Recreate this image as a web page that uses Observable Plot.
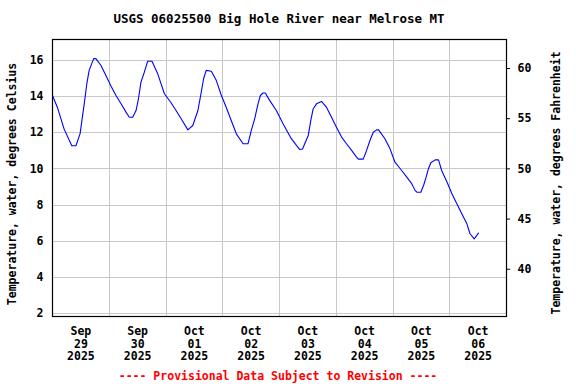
<!DOCTYPE html>
<html>
<head>
<meta charset="utf-8">
<script src="https://cdn.jsdelivr.net/npm/d3@7"></script>
<script src="https://cdn.jsdelivr.net/npm/@observablehq/plot@0.6"></script>
<style>
  html, body { margin: 0; padding: 0; background: #fff; }
  body { width: 576px; height: 384px; overflow: hidden; font-family: "DejaVu Sans Mono", monospace; font-weight: bold; }
  #title { width: 558px; height: 30px; box-sizing: border-box; padding-top: 12px; line-height: 14px; text-align: center; font-size: 12.5px; color: #000; }
  #caption { width: 556px; height: 16px; line-height: 16px; text-align: center; font-size: 11.5px; color: #ff0000; }
  svg { display: block; }
</style>
</head>
<body>
<div id="title">USGS 06025500 Big Hole River near Melrose MT</div>
<div id="chart"></div>
<div id="caption">---- Provisional Data Subject to Revision ----</div>
<script>
// Observation times and water temperature, °C
const times = [
  "2025-09-29T00:00","2025-09-29T02:05","2025-09-29T04:55","2025-09-29T08:10","2025-09-29T09:55",
  "2025-09-29T11:40","2025-09-29T13:25","2025-09-29T14:30","2025-09-29T15:30","2025-09-29T17:25",
  "2025-09-29T18:20","2025-09-29T20:30","2025-09-29T22:35",
  "2025-09-30T00:40","2025-09-30T02:50","2025-09-30T05:00","2025-09-30T07:05","2025-09-30T08:30",
  "2025-09-30T09:55","2025-09-30T11:20","2025-09-30T12:15","2025-09-30T13:25","2025-09-30T14:50",
  "2025-09-30T16:15","2025-09-30T18:05","2025-09-30T20:30","2025-09-30T23:20",
  "2025-10-01T01:55","2025-10-01T04:15","2025-10-01T06:25","2025-10-01T09:15","2025-10-01T11:20",
  "2025-10-01T13:30","2025-10-01T14:55","2025-10-01T15:55","2025-10-01T17:00","2025-10-01T19:10",
  "2025-10-01T21:15","2025-10-01T23:25",
  "2025-10-02T01:30","2025-10-02T03:35","2025-10-02T05:45","2025-10-02T08:35","2025-10-02T10:40",
  "2025-10-02T12:05","2025-10-02T13:30","2025-10-02T14:55","2025-10-02T15:55","2025-10-02T17:00",
  "2025-10-02T18:00","2025-10-02T19:50","2025-10-02T22:40",
  "2025-10-03T01:30","2025-10-03T05:00","2025-10-03T07:10","2025-10-03T08:35","2025-10-03T09:45",
  "2025-10-03T10:40","2025-10-03T12:10","2025-10-03T13:15","2025-10-03T14:15","2025-10-03T15:40",
  "2025-10-03T17:45","2025-10-03T19:55","2025-10-03T22:00",
  "2025-10-04T00:05","2025-10-04T02:15","2025-10-04T04:20","2025-10-04T06:30","2025-10-04T08:35",
  "2025-10-04T09:20","2025-10-04T11:25","2025-10-04T12:50","2025-10-04T14:15","2025-10-04T15:40",
  "2025-10-04T17:05","2025-10-04T17:55","2025-10-04T20:35","2025-10-04T22:45",
  "2025-10-05T00:50","2025-10-05T03:25","2025-10-05T05:50","2025-10-05T07:55","2025-10-05T09:20",
  "2025-10-05T10:05","2025-10-05T11:45","2025-10-05T12:55","2025-10-05T14:00","2025-10-05T15:00",
  "2025-10-05T16:00","2025-10-05T17:50","2025-10-05T19:15","2025-10-05T20:35","2025-10-05T22:50",
  "2025-10-06T00:55","2025-10-06T03:00","2025-10-06T05:05","2025-10-06T07:15","2025-10-06T08:35",
  "2025-10-06T10:20","2025-10-06T12:10"
];
const tempC = [
  14.06,13.40,12.20,11.28,11.28,11.95,13.60,14.70,15.45,16.10,16.10,15.72,15.17,
  14.60,14.06,13.60,13.14,12.86,12.86,13.23,13.80,14.80,15.35,15.96,15.96,15.26,14.16,
  13.70,13.23,12.77,12.16,12.40,13.23,14.25,15.00,15.45,15.40,14.90,14.06,
  13.40,12.68,11.94,11.39,11.39,12.13,12.77,13.60,14.06,14.20,14.20,13.79,13.23,
  12.50,11.67,11.30,11.07,11.10,11.39,11.85,12.68,13.33,13.60,13.73,13.40,12.86,
  12.31,11.76,11.39,11.02,10.65,10.54,10.54,11.02,11.57,12.03,12.16,12.16,11.67,11.11,
  10.37,9.95,9.54,9.18,8.81,8.71,8.71,9.08,9.54,10.01,10.34,10.50,10.50,9.91,9.27,
  8.62,8.07,7.52,6.96,6.41,6.13,6.44
];
// Axis tick labels
const dayLabels = [
  ["2025-09-29T12:00","Sep\n29\n2025"],["2025-09-30T12:00","Sep\n30\n2025"],
  ["2025-10-01T12:00","Oct\n01\n2025"],["2025-10-02T12:00","Oct\n02\n2025"],
  ["2025-10-03T12:00","Oct\n03\n2025"],["2025-10-04T12:00","Oct\n04\n2025"],
  ["2025-10-05T12:00","Oct\n05\n2025"],["2025-10-06T12:00","Oct\n06\n2025"]
];
const midnights = ["2025-09-30","2025-10-01","2025-10-02","2025-10-03","2025-10-04","2025-10-05","2025-10-06"];
const celsiusTicks = [2,4,6,8,10,12,14,16];
const fahrenheitTicks = [40,45,50,55,60];
const xDomain = ["2025-09-29T00:00","2025-10-07T00:00"];
const yDomain = [1.83, 17.16];
const leftTitle = "Temperature, water, degrees Celsius";
const rightTitle = "Temperature, water, degrees Fahrenheit";

const parse = s => new Date((s.length === 10 ? s + "T00:00" : s) + ":00Z");
const data = times.map((t, i) => ({t: parse(t), v: tempC[i]}));
const labelMap = new Map(dayLabels.map(([d, l]) => [+parse(d), l]));

const font = "'DejaVu Sans Mono', monospace";
const chart = Plot.plot({
  width: 576,
  height: 338,
  marginTop: 9,
  marginBottom: 52,
  marginLeft: 52,
  marginRight: 70,
  style: {fontFamily: font, fontSize: "11.5px", fontWeight: "bold", color: "#000", background: "#fff"},
  x: {type: "utc", domain: xDomain.map(parse)},
  y: {domain: yDomain},
  marks: [
    Plot.ruleY(celsiusTicks, {stroke: "#c8c8c8", strokeOpacity: 1, shapeRendering: "crispEdges"}),
    Plot.ruleX(midnights.map(parse), {stroke: "#c8c8c8", strokeOpacity: 1, shapeRendering: "crispEdges"}),
    Plot.line(data, {x: "t", y: "v", stroke: "#0000ff", strokeWidth: 1.1}),
    Plot.frame({stroke: "#000", strokeWidth: 1.2}),
    Plot.axisX({
      ticks: dayLabels.map(d => parse(d[0])),
      tickFormat: d => labelMap.get(+d),
      tickSize: 0, tickPadding: 9, label: null, lineHeight: 1.12,
      fill: "#000"
    }),
    Plot.axisY({
      anchor: "left", ticks: celsiusTicks, tickFormat: d => String(d),
      tickSize: 0, tickPadding: 9, label: null, fill: "#000"
    }),
    Plot.axisY({
      anchor: "right", ticks: fahrenheitTicks.map(f => (f - 32) / 1.8),
      tickFormat: d => String(Math.round(d * 1.8 + 32)),
      tickSize: 3, tickPadding: 8, label: null, fill: "#000", stroke: "#000"
    }),
    Plot.text([leftTitle], {
      frameAnchor: "left", textAnchor: "middle", lineAnchor: "middle",
      dx: -40, dy: 6, rotate: -90, fill: "#000", text: d => d
    }),
    Plot.text([rightTitle], {
      frameAnchor: "right", textAnchor: "middle", lineAnchor: "middle",
      dx: 50, dy: 5, rotate: -90, fill: "#000", text: d => d
    })
  ]
});
document.getElementById("chart").appendChild(chart);
</script>
</body>
</html>
